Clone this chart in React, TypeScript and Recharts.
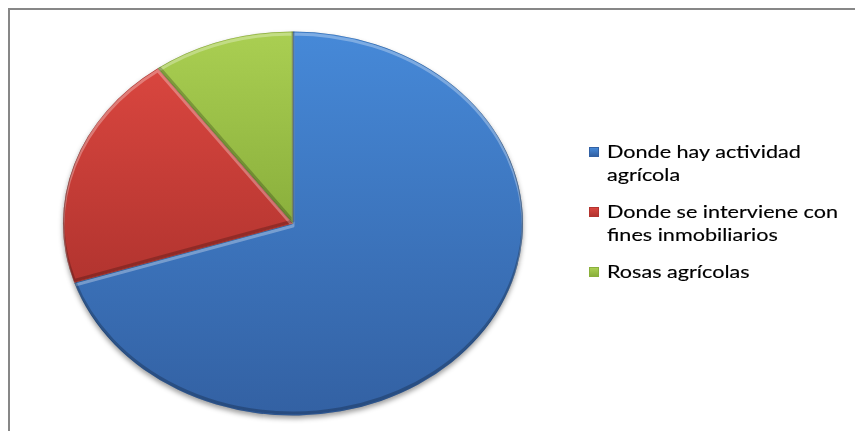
import React from 'react';
import { PieChart, Pie, Legend } from 'recharts';

const categories = [
  'Donde hay actividad agrícola',
  'Donde se interviene con fines inmobiliarios',
  'Rosas agrícolas',
];
const values = [70, 20, 10];

const data = categories.map((name, i) => ({ name, value: values[i] }));

const PALETTE = [
  { top: '#4689D8', bottom: '#3361A3', base: '#3E78C4' },
  { top: '#D9463F', bottom: '#B2342F', base: '#C43E3A' },
  { top: '#AACF52', bottom: '#8AAF3C', base: '#9BC049' },
];

const X_STRETCH = 230 / 192;
const RAD = Math.PI / 180;

function EllipseSector(props: any) {
  const { cx, cy, outerRadius, startAngle, endAngle } = props;
  const nm = props.payload?.name ?? props.name;
  const idx = Math.max(0, categories.indexOf(nm));
  const pal = PALETTE[idx];
  const rx = outerRadius * X_STRETCH;
  const ry = outerRadius;
  const x1 = cx + rx * Math.cos(startAngle * RAD);
  const y1 = cy - ry * Math.sin(startAngle * RAD);
  const x2 = cx + rx * Math.cos(endAngle * RAD);
  const y2 = cy - ry * Math.sin(endAngle * RAD);
  const delta = endAngle - startAngle;
  const large = Math.abs(delta) > 180 ? 1 : 0;
  const sweep = delta < 0 ? 1 : 0;
  const d = `M${cx},${cy} L${x1},${y1} A${rx},${ry} 0 ${large} ${sweep} ${x2},${y2} Z`;
  const gid = `sg${idx}`;
  const cid = `sc${idx}`;
  return (
    <g>
      <defs>
        <linearGradient id={gid} x1="0" y1="0" x2="0" y2="1">
          <stop offset="0%" stopColor={pal.top} />
          <stop offset="100%" stopColor={pal.bottom} />
        </linearGradient>
        <clipPath id={cid}>
          <path d={d} />
        </clipPath>
      </defs>
      <path d={d} fill={`url(#${gid})`} />
      <g clipPath={`url(#${cid})`}>
        <path d={d} transform="translate(0,2.5)" fill="none" stroke="rgba(255,255,255,0.3)" strokeWidth={3} strokeLinejoin="round" />
        <path d={d} transform="translate(0,-2.5)" fill="none" stroke="rgba(0,0,0,0.22)" strokeWidth={3} strokeLinejoin="round" />
        <path d={d} fill="none" stroke="rgba(0,0,0,0.2)" strokeWidth={1.2} />
      </g>
    </g>
  );
}

const renderLegend = (props: any) => {
  const payload = props?.payload ?? [];
  return (
    <div style={{ fontFamily: 'Lato, sans-serif', fontSize: 17, color: '#000' }}>
      {payload.map((entry: any) => {
        const idx = Math.max(0, categories.indexOf(entry.value));
        const pal = PALETTE[idx];
        return (
          <div
            key={entry.value}
            style={{ display: 'flex', alignItems: 'flex-start', lineHeight: '23.3px', marginBottom: 13.4 }}
          >
            <span
              style={{
                display: 'inline-block',
                width: 10,
                height: 10,
                marginTop: 6.7,
                marginRight: 8,
                flex: '0 0 auto',
                boxSizing: 'border-box',
                background: `linear-gradient(to bottom, ${pal.top}, ${pal.bottom})`,
                border: `1px solid ${pal.bottom}`,
              }}
            />
            <span
              style={{
                display: 'inline-block',
                width: 205,
                transform: 'scaleX(1.27)',
                transformOrigin: 'left top',
                whiteSpace: 'normal',
                WebkitTextStroke: '0.15px #000',
              }}
            >
              {entry.value}
            </span>
          </div>
        );
      })}
    </div>
  );
};

export default function App() {
  return (
    <div
      style={{
        position: 'fixed',
        left: 8,
        top: 8,
        width: 845,
        height: 421,
        borderTop: '2px solid #878787',
        borderLeft: '2px solid #878787',
        background: '#fff',
        overflow: 'hidden',
      }}
    >
      <style>{`.recharts-pie { filter: drop-shadow(0px 3px 2.5px rgba(0,0,0,0.38)); }`}</style>
      <PieChart width={845} height={421} margin={{ top: 0, right: 0, bottom: 0, left: 0 }}>
        <Pie
          data={data}
          dataKey="value"
          nameKey="name"
          cx={283}
          cy={213.5}
          outerRadius={192}
          startAngle={90}
          endAngle={-270}
          stroke="none"
          legendType="square"
          isAnimationActive={false}
          shape={EllipseSector}
          activeShape={EllipseSector}
          inactiveShape={EllipseSector}
        />
        <Legend
          layout="vertical"
          align="right"
          verticalAlign="top"
          content={renderLegend}
          wrapperStyle={{ left: 579, top: 130, width: 266, right: 'auto' }}
        />
      </PieChart>
    </div>
  );
}
